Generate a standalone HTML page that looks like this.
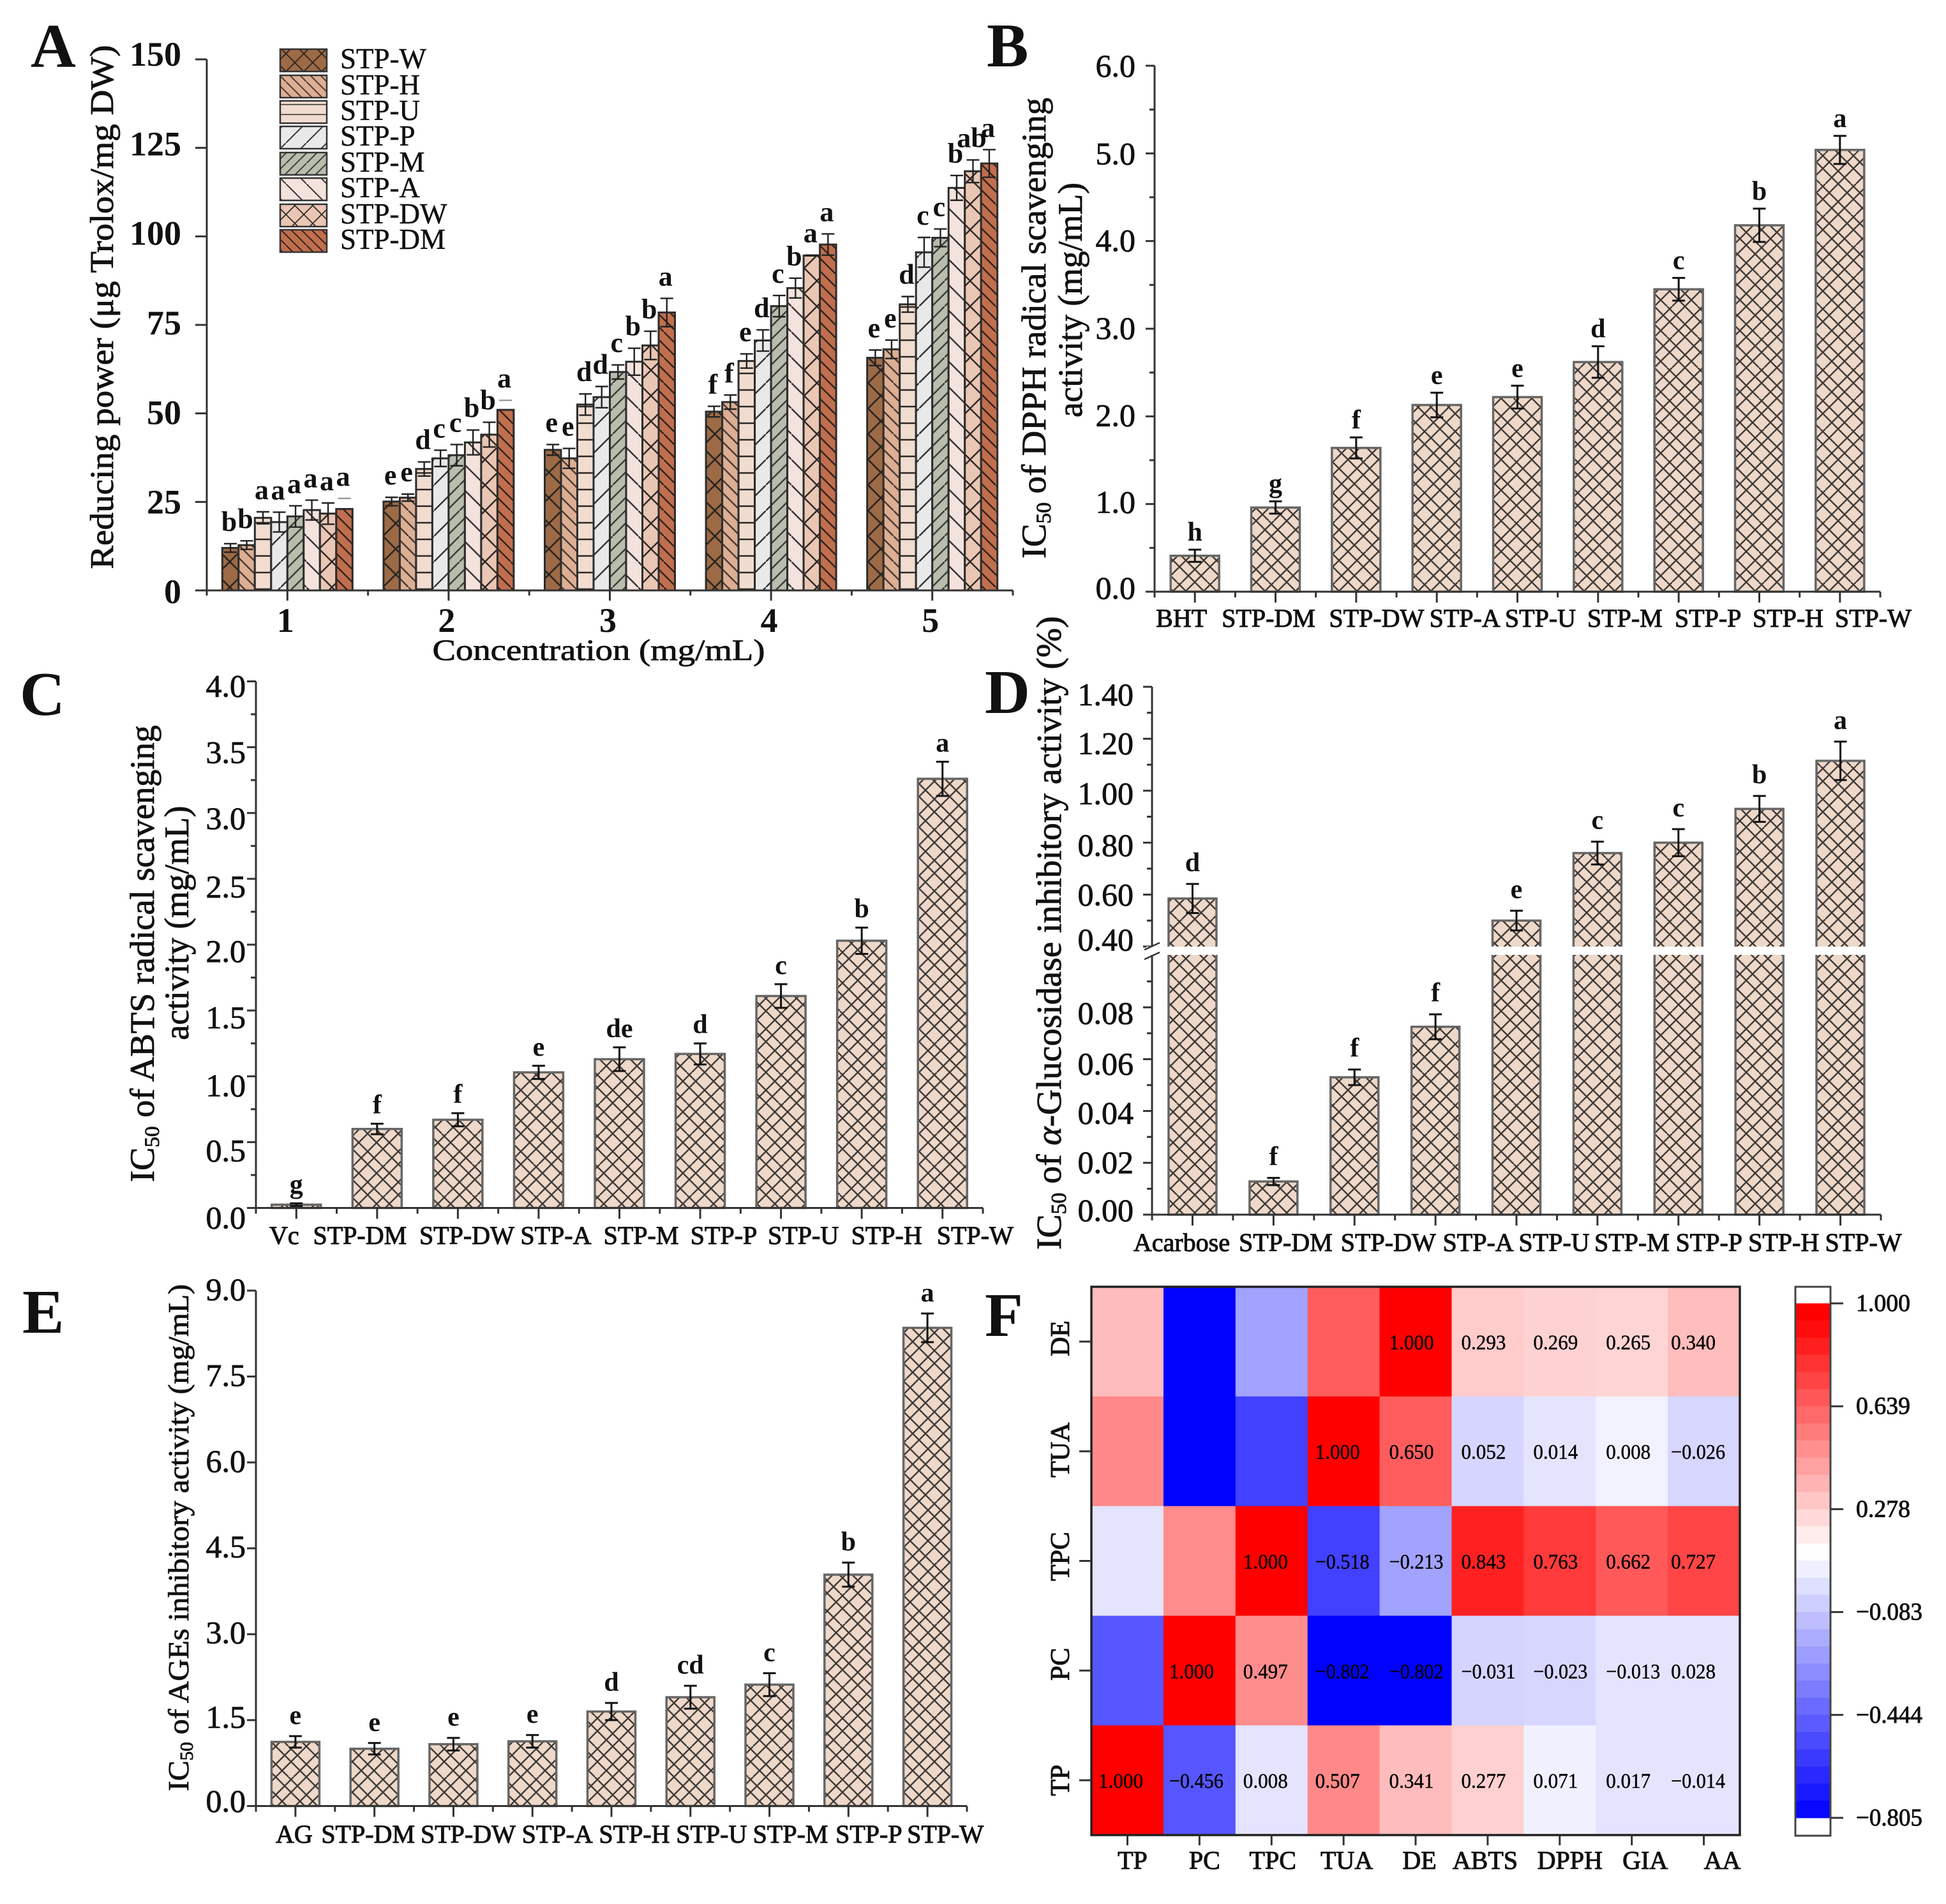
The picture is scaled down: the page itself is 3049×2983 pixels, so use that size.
<!DOCTYPE html>
<html lang="en">
<head>
<meta charset="utf-8">
<title>Six-panel bioactivity figure</title>
<style>
html,body{margin:0;padding:0;background:#fff;}
svg{display:block;}
text{font-family:"Liberation Serif","DejaVu Serif",serif;fill:#111;}
.panel-letter{font-size:98px;font-weight:bold;}
.title{text-anchor:middle;stroke:#111;stroke-width:.8px;}
.legend-text{font-size:45px;stroke:#111;stroke-width:.5px;}
</style>
</head>
<body>
<svg id="fig" xmlns="http://www.w3.org/2000/svg" width="3049" height="2983" viewBox="0 0 3049 2983">
<defs>
  <pattern id="h-w" width="40" height="40" patternUnits="userSpaceOnUse"><rect width="40" height="40" fill="#9d6a46"/><path d="M-4 -4L44 44M44 -4L-4 44" stroke="#2a2520" stroke-width="2.6"/></pattern>
  <pattern id="h-h" width="40" height="40" patternUnits="userSpaceOnUse"><rect width="40" height="40" fill="#dcae94"/><path d="M-4 -4L44 44M-24 -4L24 44M16 -4L64 44" stroke="#4a3a30" stroke-width="2.4"/></pattern>
  <pattern id="h-u" width="40" height="26" patternUnits="userSpaceOnUse"><rect width="40" height="26" fill="#f1ddd0"/><path d="M0 13H40" stroke="#2c2825" stroke-width="2.6"/></pattern>
  <pattern id="h-p" width="40" height="40" patternUnits="userSpaceOnUse"><rect width="40" height="40" fill="#e9e9e9"/><path d="M-4 44L44 -4" stroke="#333" stroke-width="2.4"/></pattern>
  <pattern id="h-m" width="40" height="40" patternUnits="userSpaceOnUse"><rect width="40" height="40" fill="#b8bdad"/><path d="M-4 44L44 -4M-24 44L24 -4M16 44L64 -4" stroke="#3a3d35" stroke-width="2.4"/></pattern>
  <pattern id="h-a" width="40" height="40" patternUnits="userSpaceOnUse"><rect width="40" height="40" fill="#f4e2dc"/><path d="M-4 -4L44 44" stroke="#333" stroke-width="2.4"/></pattern>
  <pattern id="h-dw" width="40" height="40" patternUnits="userSpaceOnUse"><rect width="40" height="40" fill="#eac6b4"/><path d="M-4 -4L44 44M44 -4L-4 44" stroke="#2e2825" stroke-width="2.4"/></pattern>
  <pattern id="h-dm" width="40" height="40" patternUnits="userSpaceOnUse"><rect width="40" height="40" fill="#c06f4e"/><path d="M-4 -4L44 44M-24 -4L24 44M16 -4L64 44" stroke="#33211a" stroke-width="2.4"/></pattern>
  <pattern id="lg-w" href="#h-w" patternTransform="scale(.7)"/>
  <pattern id="lg-h" href="#h-h" patternTransform="scale(.8)"/>
  <pattern id="lg-u" href="#h-u" patternTransform="scale(.6)"/>
  <pattern id="lg-p" href="#h-p" patternTransform="scale(.8)"/>
  <pattern id="lg-m" href="#h-m" patternTransform="scale(.8)"/>
  <pattern id="lg-a" href="#h-a" patternTransform="scale(.8)"/>
  <pattern id="lg-dw" href="#h-dw" patternTransform="scale(.7)"/>
  <pattern id="lg-dm" href="#h-dm" patternTransform="scale(.8)"/>
  <pattern id="h-cross" width="48" height="48" patternUnits="userSpaceOnUse"><rect width="48" height="48" fill="#eed8c9"/><path d="M0 0L48 48M20 0L48 28M0 28L20 48M0 48L48 0M0 28L28 0M28 48L48 28" stroke="#403b38" stroke-width="2.4"/></pattern>
</defs>
<rect width="3049" height="2983" fill="#fff"/>

<text class="panel-letter" x="48" y="105">A</text>
<text class="panel-letter" x="1546" y="104">B</text>
<text class="panel-letter" x="31" y="1120">C</text>
<text class="panel-letter" x="1543" y="1117">D</text>
<text class="panel-letter" x="35" y="2088">E</text>
<text class="panel-letter" x="1543" y="2093">F</text>

<text class="title" font-size="52" textLength="821" lengthAdjust="spacingAndGlyphs" transform="translate(177,481) rotate(-90)">Reducing power (μg Trolox/mg DW)</text>
<text class="title" font-size="47" textLength="521" lengthAdjust="spacingAndGlyphs" x="938" y="1034">Concentration (mg/mL)</text>

<text class="title" font-size="54" textLength="722" lengthAdjust="spacingAndGlyphs" transform="translate(1638,514) rotate(-90)">IC<tspan font-size="33" dy="8">50</tspan><tspan dy="-8"> of DPPH radical scavenging</tspan></text>
<text class="title" font-size="54" textLength="368" lengthAdjust="spacingAndGlyphs" transform="translate(1695,470) rotate(-90)">activity (mg/mL)</text>

<text class="title" font-size="54" textLength="716" lengthAdjust="spacingAndGlyphs" transform="translate(241,1494) rotate(-90)">IC<tspan font-size="33" dy="8">50</tspan><tspan dy="-8"> of ABTS radical scavenging</tspan></text>
<text class="title" font-size="54" textLength="367" lengthAdjust="spacingAndGlyphs" transform="translate(295,1446) rotate(-90)">activity (mg/mL)</text>

<text class="title" font-size="55.5" style="text-anchor:start" transform="translate(1662,1958) rotate(-90)">IC<tspan font-size="34" dy="8">50</tspan><tspan dy="-8"> of </tspan><tspan font-style="italic">α</tspan><tspan>-Glucosidase inhibitory activity (%)</tspan></text>

<text class="title" font-size="46" textLength="794" lengthAdjust="spacingAndGlyphs" transform="translate(295,2409) rotate(-90)">IC<tspan font-size="28" dy="7">50</tspan><tspan dy="-7"> of AGEs inhibitory activity (mg/mL)</tspan></text>

<g id="legend">
  <rect x="439" y="77" width="73" height="35" fill="url(#lg-w)" stroke="#333" stroke-width="2.5"/>
  <rect x="439" y="118" width="73" height="35" fill="url(#lg-h)" stroke="#333" stroke-width="2.5"/>
  <rect x="439" y="158" width="73" height="35" fill="url(#lg-u)" stroke="#333" stroke-width="2.5"/>
  <rect x="439" y="198" width="73" height="35" fill="url(#lg-p)" stroke="#333" stroke-width="2.5"/>
  <rect x="439" y="239" width="73" height="35" fill="url(#lg-m)" stroke="#333" stroke-width="2.5"/>
  <rect x="439" y="279" width="73" height="35" fill="url(#lg-a)" stroke="#333" stroke-width="2.5"/>
  <rect x="439" y="320" width="73" height="35" fill="url(#lg-dw)" stroke="#333" stroke-width="2.5"/>
  <rect x="439" y="360" width="73" height="35" fill="url(#lg-dm)" stroke="#333" stroke-width="2.5"/>
  <text class="legend-text" x="533" y="107">STP-W</text>
  <text class="legend-text" x="533" y="148">STP-H</text>
  <text class="legend-text" x="533" y="188">STP-U</text>
  <text class="legend-text" x="533" y="228">STP-P</text>
  <text class="legend-text" x="533" y="269">STP-M</text>
  <text class="legend-text" x="533" y="309">STP-A</text>
  <text class="legend-text" x="533" y="350">STP-DW</text>
  <text class="legend-text" x="533" y="390">STP-DM</text>
</g>
</svg>

<script>
/* ---------- Panel A data ---------- */
const aConcentrations = ['1', '2', '3', '4', '5'];
const aSeriesNames = ['STP-W', 'STP-H', 'STP-U', 'STP-P', 'STP-M', 'STP-A', 'STP-DW', 'STP-DM'];
const aSeriesW = [12.0, 25.1, 39.7, 50.5, 65.7];
const aSeriesH = [12.8, 26.2, 37.3, 53.2, 68.1];
const aSeriesU = [20.5, 34.3, 52.5, 64.8, 80.8];
const aSeriesP = [19.3, 37.3, 54.6, 70.6, 95.5];
const aSeriesM = [20.9, 38.2, 61.7, 80.3, 99.6];
const aSeriesA = [22.7, 41.8, 64.6, 85.4, 113.7];
const aSeriesDW = [21.7, 44.0, 69.2, 94.6, 118.4];
const aSeriesDM = [23.0, 51.0, 78.5, 97.7, 120.6];
const aErrW = [1.2, 1.2, 1.5, 1.5, 2.2];
const aErrH = [1.2, 1.0, 2.8, 2.0, 2.6];
const aErrU = [1.7, 2.0, 3.0, 2.0, 2.2];
const aErrP = [2.8, 2.3, 3.0, 3.0, 4.2];
const aErrM = [3.0, 3.0, 2.0, 3.0, 2.5];
const aErrA = [2.8, 3.5, 3.8, 2.8, 3.5];
const aErrDW = [3.0, 3.5, 4.0, 0.1, 3.2];
const aErrDM = [3.0, 2.7, 4.0, 3.0, 3.9];
const aLettersByGroup = [
  ['b', 'b', 'a', 'a', 'a', 'a', 'a', 'a'],
  ['e', 'e', 'd', 'c', 'c', 'b', 'b', 'a'],
  ['e', 'e', 'd', 'd', 'c', 'b', 'b', 'a'],
  ['f', 'f', 'e', 'd', 'c', 'b', 'a', 'a'],
  ['e', 'e', 'd', 'c', 'c', 'b', 'ab', 'a']
];
const aYTicks = [0, 25, 50, 75, 100, 125, 150];

/* ---------- Panel B data ---------- */
const bCategories = ['BHT', 'STP-DM', 'STP-DW', 'STP-A', 'STP-U', 'STP-M', 'STP-P', 'STP-H', 'STP-W'];
const bValues = [0.41, 0.96, 1.64, 2.13, 2.22, 2.62, 3.45, 4.18, 5.04];
const bErrors = [0.07, 0.07, 0.12, 0.14, 0.13, 0.18, 0.13, 0.19, 0.16];
const bLetters = ['h', 'g', 'f', 'e', 'e', 'd', 'c', 'b', 'a'];
const bYTicks = [0, 1, 2, 3, 4, 5, 6];
const bLabelNudge = [-21, -11, 32, 44, 36, 42, 46, 45, 52];
const bTickShift = [11, 14, 15, 16, 16, 17, 17];

/* ---------- Panel C data ---------- */
const cCategories = ['Vc', 'STP-DM', 'STP-DW', 'STP-A', 'STP-M', 'STP-P', 'STP-U', 'STP-H', 'STP-W'];
const cValues = [0.025, 0.60, 0.67, 1.03, 1.13, 1.17, 1.61, 2.03, 3.26];
const cErrors = [0.01, 0.04, 0.05, 0.05, 0.09, 0.08, 0.09, 0.10, 0.13];
const cLetters = ['g', 'f', 'f', 'e', 'de', 'd', 'c', 'b', 'a'];
const cYTicks = [0, 0.5, 1, 1.5, 2, 2.5, 3, 3.5, 4];
const cLabelNudge = [-19, -27, 14, 27, 34, 37, 35, 39, 51];
const cTickShift = [32, 30, 31, 28, 27, 29, 25, 25, 24];

/* ---------- Panel D data ---------- */
const dCategories = ['Acarbose', 'STP-DM', 'STP-DW', 'STP-A', 'STP-U', 'STP-M', 'STP-P', 'STP-H', 'STP-W'];
const dValues = [0.585, 0.0128, 0.053, 0.0725, 0.50, 0.76, 0.80, 0.93, 1.115];
const dErrors = [0.056, 0.0014, 0.003, 0.0048, 0.038, 0.044, 0.052, 0.05, 0.074];
const dLetters = ['d', 'f', 'f', 'f', 'e', 'c', 'c', 'b', 'a'];
const dYTicks = [0, 0.02, 0.04, 0.06, 0.08, 0.4, 0.6, 0.8, 1.0, 1.2, 1.4];
const dLabelNudge = [-17, 19, 53, 67, 59, 54, 48, 38, 36];
const dTickShift = [10, 16, 20, 24, 26, 6, 17, 21, 21, 24, 29];

/* ---------- Panel E data ---------- */
const eCategories = ['AG', 'STP-DM', 'STP-DW', 'STP-A', 'STP-H', 'STP-U', 'STP-M', 'STP-P', 'STP-W'];
const eValues = [1.12, 1.00, 1.08, 1.13, 1.65, 1.90, 2.12, 4.04, 8.35];
const eErrors = [0.10, 0.10, 0.11, 0.11, 0.15, 0.20, 0.20, 0.21, 0.25];
const eLetters = ['e', 'e', 'e', 'e', 'd', 'cd', 'c', 'b', 'a'];
const eYTicks = [0, 1.5, 3, 4.5, 6, 7.5, 9];
const eLabelNudge = [-2, -10, 23, 39, 36, 33, 33, 32, 28];
const eTickShift = [9, 12, 14, 14, 15, 15, 15];

/* ---------- Panel F data ---------- */
const fColumns = ['TP', 'PC', 'TPC', 'TUA', 'DE', 'ABTS', 'DPPH', 'GIA', 'AA'];
const fRows = ['DE', 'TUA', 'TPC', 'PC', 'TP'];
const fCellsDE = [0.341, -0.802, -0.213, 0.650, 1.000, 0.293, 0.269, 0.265, 0.340];
const fCellsTUA = [0.507, -0.802, -0.518, 1.000, 0.650, 0.052, 0.014, 0.008, -0.026];
const fCellsTPC = [0.008, 0.497, 1.000, -0.518, -0.213, 0.843, 0.763, 0.662, 0.727];
const fCellsPC = [-0.456, 1.000, 0.497, -0.802, -0.802, -0.031, -0.023, -0.013, 0.028];
const fCellsTP = [1.000, -0.456, 0.008, 0.507, 0.341, 0.277, 0.071, 0.017, -0.014];
const fColorbarTicks = [1.000, 0.639, 0.278, -0.083, -0.444, -0.805];

const NS = 'http://www.w3.org/2000/svg';
const fig = document.getElementById('fig');

function make(tag, attrs, parent) {
  const el = document.createElementNS(NS, tag);
  for (const k in attrs) el.setAttribute(k, attrs[k]);
  (parent || fig).appendChild(el);
  return el;
}

function barGroup(name) {
  const g = make('g', {});
  
  
  return g;
}

function drawErrorBar(g, cx, yHigh, yLow, color, width, capHalf, capOnly, prefix) {
  if (!capOnly) {
    const stem = make('line', { x1: cx, x2: cx, y1: yHigh, y2: yLow, stroke: color, 'stroke-width': width }, g);
    
    
    const low = make('line', { x1: cx - capHalf, x2: cx + capHalf, y1: yLow, y2: yLow, stroke: color, 'stroke-width': width }, g);
    
    
  }
  const high = make('line', { x1: cx - capHalf, x2: cx + capHalf, y1: yHigh, y2: yHigh, stroke: capOnly ? '#999' : color, 'stroke-width': width }, g);
  
  
}

function drawAxes(g, prefix, x0, x1, yBase, yTopPx) {
  const ya = make('line', { x1: x0, x2: x0, y1: yTopPx, y2: yBase + 1.5, stroke: '#333', 'stroke-width': 3 }, g);
  
  
  const xa = make('line', { x1: x0, x2: x1, y1: yBase, y2: yBase, stroke: '#333', 'stroke-width': 3 }, g);
  
  
}

function tickLine(g, name, x1, y1, x2, y2, w) {
  const t = make('line', { x1: x1, y1: y1, x2: x2, y2: y2, stroke: '#333', 'stroke-width': w || 3 }, g);
  
  
}

/* ---------- Panel A ---------- */
(function () {
  const g = barGroup('panel-a-chart');
  const x0 = 324, x1 = 1587, yBase = 925, yTop = 93, yMax = 150;
  const y = v => yBase - v / yMax * (yBase - yTop);
  const band = (x1 - x0) / aConcentrations.length;
  const barW = 25.5;
  const seriesValues = [aSeriesW, aSeriesH, aSeriesU, aSeriesP, aSeriesM, aSeriesA, aSeriesDW, aSeriesDM];
  const seriesErrors = [aErrW, aErrH, aErrU, aErrP, aErrM, aErrA, aErrDW, aErrDM];
  const fills = ['h-w', 'h-h', 'h-u', 'h-p', 'h-m', 'h-a', 'h-dw', 'h-dm'];

  aConcentrations.forEach((c, gi) => {
    const gc = x0 + band * (gi + 0.5);
    seriesValues.forEach((vals, si) => {
      const v = vals[gi], er = seriesErrors[si][gi];
      const bx = gc - barW * 4 + barW * si;
      const cx = bx + barW / 2;
      const rect = make('rect', { x: bx, y: y(v), width: barW, height: yBase - y(v), fill: 'url(#' + fills[si] + ')', stroke: '#2c2c2c', 'stroke-width': 3 }, g);
      
      
      const capOnly = si === 7 && gi < 2;
      drawErrorBar(g, cx, y(v + er), y(v - er), '#222', 2.4, 10, capOnly, 'bar-' + aSeriesNames[si].toLowerCase() + '-conc-' + c);
      const lab = make('text', { x: cx - 2, y: y(v + er) - 20, 'text-anchor': 'middle', 'font-size': 44, 'font-weight': 'bold' }, g);
      
      
      lab.textContent = aLettersByGroup[gi][si];
    });
  });
  drawAxes(g, 'panel-a', x0, x1, yBase, yTop);
  aYTicks.forEach(v => {
    tickLine(g, 'panel-a-y-tick', x0 - 18, y(v), x0, y(v));
    const t = make('text', { x: 284, y: y(v) + 15 - (v - 75) / 15, 'text-anchor': 'end', 'font-size': 54, 'font-weight': 'bold' }, g);
    
    
    t.textContent = v;
  });
  aConcentrations.forEach((c, i) => {
    const cx = x0 + band * (i + 0.5);
    tickLine(g, 'panel-a-x-tick', cx, yBase, cx, yBase + 16);
    tickLine(g, 'panel-a-x-minor-tick', x0 + band * i, yBase, x0 + band * i, yBase + 8);
    const t = make('text', { x: cx - 3, y: 990, 'text-anchor': 'middle', 'font-size': 54, 'font-weight': 'bold' }, g);
    
    
    t.textContent = c;
  });
  tickLine(g, 'panel-a-x-minor-tick', x1, yBase, x1, yBase + 8);
})();

/* ---------- Panels B to E ---------- */
function drawBarPanel(cfg) {
  const g = barGroup(cfg.id + '-chart');
  const band = (cfg.x1 - cfg.x0) / cfg.categories.length;
  const y = cfg.y;
  cfg.categories.forEach((c, i) => {
    const cx = cfg.x0 + band * (i + 0.5);
    const v = cfg.values[i], er = cfg.errors[i];
    const rect = make('rect', { x: cx - cfg.barW / 2, y: y(v), width: cfg.barW, height: cfg.yBase - y(v), fill: 'url(#h-cross)', stroke: '#666', 'stroke-width': 3.5 }, g);
    
    
    drawErrorBar(g, cx, y(v + er), y(v - er), '#111', 3, 10, false, cfg.id + '-bar-' + c.toLowerCase());
    const lab = make('text', { x: cx, y: y(v + er) - cfg.letterGap, 'text-anchor': 'middle', 'font-size': 42, 'font-weight': 'bold' }, g);
    
    
    lab.textContent = cfg.letters[i];
    tickLine(g, cfg.id + '-x-tick', cx, cfg.yBase, cx, cfg.yBase + 17);
    tickLine(g, cfg.id + '-x-minor-tick', cfg.x0 + band * i, cfg.yBase, cfg.x0 + band * i, cfg.yBase + 9);
    const t = make('text', { x: cx + cfg.labelNudge[i], y: cfg.labelY, 'text-anchor': 'middle', 'font-size': 40, style: 'stroke:#111;stroke-width:1px' }, g);
    
    
    t.textContent = c;
  });
  tickLine(g, cfg.id + '-x-minor-tick', cfg.x1, cfg.yBase, cfg.x1, cfg.yBase + 9);
  if (cfg.beforeAxes) cfg.beforeAxes(g);
  drawAxes(g, cfg.id, cfg.x0, cfg.x1, cfg.yBase, cfg.yTop);
  cfg.yTicks.forEach((v, i) => {
    tickLine(g, cfg.id + '-y-tick', cfg.x0 - 14, y(v), cfg.x0, y(v));
    const t = make('text', { x: cfg.tickRight, y: y(v) + cfg.tickShift[i], 'text-anchor': 'end', 'font-size': 50, style: 'stroke:#111;stroke-width:.8px' }, g);
    
    
    t.textContent = v.toFixed(cfg.decimals);
  });
  cfg.minor.forEach(v => {
    tickLine(g, cfg.id + '-y-minor-tick', cfg.x0 - 8, y(v), cfg.x0, y(v));
  });
}

const linY = (base, top, max) => v => base - v / max * (base - top);

drawBarPanel({
  id: 'panel-b', categories: bCategories, values: bValues, errors: bErrors, letters: bLetters,
  labelNudge: bLabelNudge, yTicks: bYTicks, minor: [0.5, 1.5, 2.5, 3.5, 4.5, 5.5], decimals: 1,
  x0: 1809, x1: 2946, yBase: 927, yTop: 103, y: linY(927, 103, 6), barW: 76,
  letterGap: 14, labelY: 982, tickRight: 1779, tickShift: bTickShift
});
drawBarPanel({
  id: 'panel-c', categories: cCategories, values: cValues, errors: cErrors, letters: cLetters,
  labelNudge: cLabelNudge, yTicks: cYTicks, minor: [0.25, 0.75, 1.25, 1.75, 2.25, 2.75, 3.25, 3.75], decimals: 1,
  x0: 401, x1: 1540, yBase: 1892.5, yTop: 1067.5, y: linY(1892.5, 1067.5, 4), barW: 77,
  letterGap: 16, labelY: 1949, tickRight: 385, tickShift: cTickShift
});
const dY = v => v <= 0.1 ? 1903 - v * (1903 - 1497) / 0.1 : 1483 - (v - 0.4) * 407;
drawBarPanel({
  id: 'panel-d', categories: dCategories, values: dValues, errors: dErrors, letters: dLetters,
  labelNudge: dLabelNudge, yTicks: dYTicks, minor: [0.01, 0.03, 0.05, 0.07, 0.09, 0.5, 0.7, 0.9, 1.1, 1.3], decimals: 2,
  x0: 1805, x1: 2947, yBase: 1903, yTop: 1076, y: dY, barW: 75,
  letterGap: 20, labelY: 1960, tickRight: 1776, tickShift: dTickShift,
  beforeAxes: g => {
    const w = make('rect', { x: 1795, y: 1483, width: 1160, height: 13, fill: '#fff' }, g);
    
    
  }
});
(function () {
  const g = barGroup('panel-d-axis-break');
  const cover = make('rect', { x: 1796, y: 1483, width: 18, height: 13, fill: '#fff' }, g);
  
  
  tickLine(g, 'panel-d-break-mark-upper', 1793, 1488, 1817, 1477, 2.5);
  tickLine(g, 'panel-d-break-mark-lower', 1793, 1503, 1817, 1492, 2.5);
})();
drawBarPanel({
  id: 'panel-e', categories: eCategories, values: eValues, errors: eErrors, letters: eLetters,
  labelNudge: eLabelNudge, yTicks: eYTicks, minor: [], decimals: 1,
  x0: 401, x1: 1515, yBase: 2829.5, yTop: 2022, y: linY(2829.5, 2022, 9), barW: 75,
  letterGap: 19, labelY: 2887, tickRight: 385, tickShift: eTickShift
});

/* ---------- Panel F ---------- */
(function () {
  const g = barGroup('panel-f-heatmap');
  const matrix = [fCellsDE, fCellsTUA, fCellsTPC, fCellsPC, fCellsTP];
  const x0 = 1710, x1 = 2726, y0 = 2016, y1 = 2875;
  const cw = (x1 - x0) / fColumns.length, ch = (y1 - y0) / fRows.length;
  const textOffset = [11, 9, 12, 12, 15, 15, 15, 16, 5];
  const colXNudge = [8, 8, 2, 5, 6, -4, 16, 21, 29];
  const rowYNudge = [-5, -2, -7, -10, 0];
  /* small shade corrections per cell (row,col) so colours follow the picture */
  const shadeAdjust = {
    '1,2': -0.05, '2,3': -0.05, '3,0': -0.035, '4,1': -0.035,
    '1,5': -0.082, '1,6': 0.012, '1,7': 0.067,
    '3,7': 0.04, '4,8': 0.04, '4,7': 0.01, '4,2': 0.018, '2,0': 0.018
  };
  const whiteAt = 0.125, blueAt = -0.805, redAt = 0.95;
  function colorFor(v) {
    let c;
    if (v < whiteAt) {
      c = Math.round(255 * (1 - Math.min(1, (whiteAt - v) / (whiteAt - blueAt))));
      c = Math.max(0, c);
      return 'rgb(' + c + ',' + c + ',255)';
    }
    c = Math.round(255 * (1 - Math.min(1, (v - whiteAt) / (redAt - whiteAt))));
    return 'rgb(255,' + c + ',' + c + ')';
  }
  matrix.forEach((row, r) => {
    row.forEach((v, c) => {
      const shade = v + (shadeAdjust[r + ',' + c] || 0);
      const rect = make('rect', { x: x0 + cw * c, y: y0 + ch * r, width: cw + 0.5, height: ch + 0.5, fill: colorFor(shade) }, g);
      
      
    });
  });
  matrix.forEach((row, r) => {
    row.forEach((v, c) => {
      if (c < 4 - r) return;
      const str = (v < 0 ? '−' : '') + Math.abs(v).toFixed(3);
      const t = make('text', { x: x0 + cw * c + textOffset[c], y: y0 + ch * (r + 0.5) + 12, 'font-size': 33, textLength: v < 0 ? 85 : 70, lengthAdjust: 'spacingAndGlyphs', style: 'fill:#000;stroke:#000;stroke-width:.4px' }, g);
      
      
      t.textContent = str;
    });
  });
  const border = make('rect', { x: x0, y: y0, width: x1 - x0, height: y1 - y0, fill: 'none', stroke: '#222', 'stroke-width': 3.5 }, g);
  
  
  fColumns.forEach((c, i) => {
    const cx = x0 + cw * (i + 0.5);
    tickLine(g, 'heatmap-x-tick', cx, y1, cx, y1 + 16);
    const t = make('text', { x: cx + colXNudge[i], y: 2928, 'text-anchor': 'middle', 'font-size': 40, style: 'stroke:#111;stroke-width:1px' }, g);
    
    
    t.textContent = c;
  });
  fRows.forEach((rname, i) => {
    const cy = y0 + ch * (i + 0.5);
    tickLine(g, 'heatmap-y-tick', x0 - 19, cy, x0, cy);
    const t = make('text', { transform: 'translate(1675,' + (cy + rowYNudge[i]) + ') rotate(-90)', 'text-anchor': 'middle', 'font-size': 42, style: 'stroke:#111;stroke-width:1px' }, g);
    
    
    t.textContent = rname;
  });

  /* colour bar */
  const cbx0 = 2813, cbx1 = 2868, cby0 = 2016, cby1 = 2876;
  const vMax = fColorbarTicks[0], vMin = fColorbarTicks[fColorbarTicks.length - 1];
  const cbTop = 2042, cbBottom = 2848;
  const cbY = v => cbTop + (vMax - v) / (vMax - vMin) * (cbBottom - cbTop);
  const levels = 30;
  const step = (vMax - vMin) / levels;
  const cb = barGroup('colorbar');
  for (let i = 0; i < levels; i++) {
    const hi = vMax - step * i, lo = hi - step;
    const r = make('rect', { x: cbx0, y: cbY(hi), width: cbx1 - cbx0, height: cbY(lo) - cbY(hi) + 0.5, fill: colorFor((hi + lo) / 2) }, cb);
    
    
  }
  const cbBorder = make('rect', { x: cbx0, y: cby0, width: cbx1 - cbx0, height: cby1 - cby0, fill: 'none', stroke: '#444', 'stroke-width': 3 }, cb);
  
  
  fColorbarTicks.forEach(v => {
    tickLine(cb, 'colorbar-tick', cbx1, cbY(v), cbx1 + 20, cbY(v));
    const t = make('text', { x: 2908, y: cbY(v) + 12, 'font-size': 38, textLength: v < 0 ? 104 : 85, lengthAdjust: 'spacingAndGlyphs', style: 'stroke:#111;stroke-width:.9px' }, cb);
    
    
    t.textContent = (v < 0 ? '−' : '') + Math.abs(v).toFixed(3);
  });
})();
</script>
</body>
</html>
